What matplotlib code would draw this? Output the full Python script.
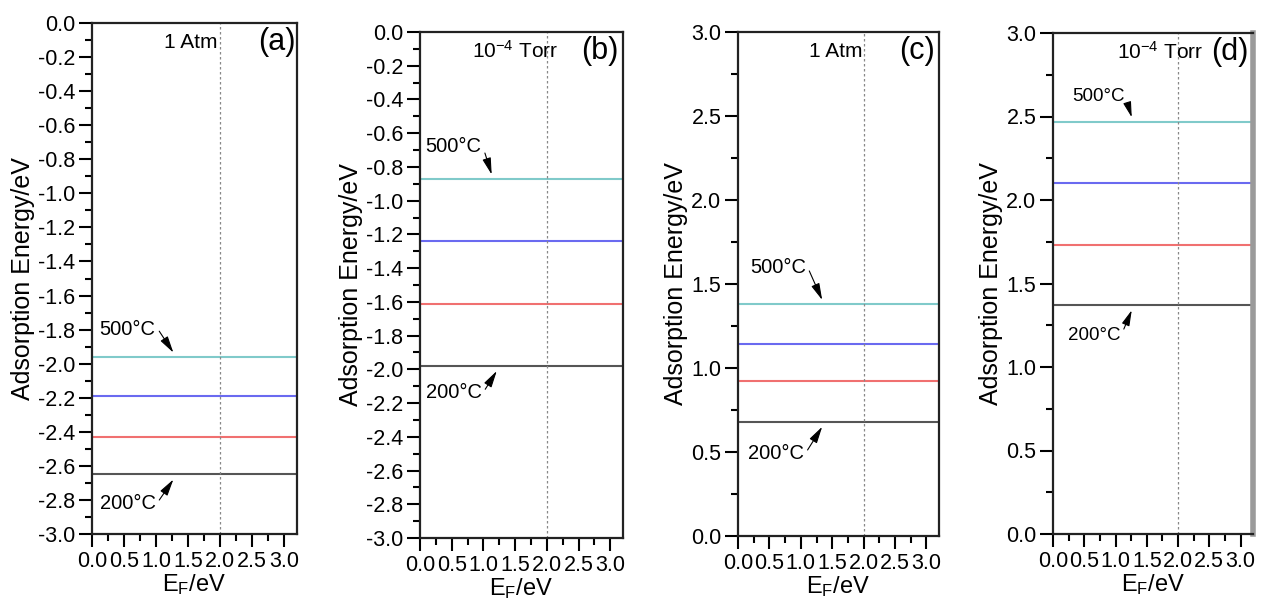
import numpy as np
import matplotlib.pyplot as plt
from matplotlib.ticker import MultipleLocator

plt.rcParams['font.family'] = ['Liberation Sans', 'DejaVu Sans']
plt.rcParams['mathtext.fontset'] = 'custom'
plt.rcParams['mathtext.rm'] = 'Liberation Sans'
plt.rcParams['mathtext.it'] = 'Liberation Sans'
plt.rcParams['axes.unicode_minus'] = False

# data: adsorption energy levels, 500°C ... 200°C (top to bottom)
panel_tags = ['(a)', '(b)', '(c)', '(d)']
conditions = ['1 Atm', '10$^{-4}$ Torr', '1 Atm', '10$^{-4}$ Torr']
levels_a = [-1.96, -2.19, -2.43, -2.65]
levels_b = [-0.87, -1.24, -1.61, -1.98]
levels_c = [1.38, 1.14, 0.92, 0.68]
levels_d = [2.47, 2.10, 1.73, 1.37]
levels = [levels_a, levels_b, levels_c, levels_d]
temp_labels = ['500°C', '200°C']
ef_mark = 2.0
x_range = (0.0, 3.2)
y_ranges = [(-3.0, 0.0), (-3.0, 0.0), (0.0, 3.0), (0.0, 3.0)]
y_major = [0.2, 0.2, 0.5, 0.5]

line_colors = ['#80caca', '#6a6af0', '#f07070', '#555555']

# layout (pixels in a 1272x602 figure): left, right, top, bottom
W, H = 1272, 602
boxes = [(92, 297, 23, 534), (420, 623, 32, 538), (738, 939, 32, 536), (1053, 1253, 33, 534)]
# label text positions (data) and arrow tip x
hot_text = [(0.12, -1.80), (0.09, -0.68), (0.19, 1.60), (0.30, 2.62)]
cold_text = [(0.12, -2.82), (0.09, -2.14), (0.16, 0.49), (0.24, 1.19)]
tip_x = [(1.27, 1.27), (1.13, 1.21), (1.34, 1.34), (1.26, 1.26)]
temp_size = [14.5, 14.5, 14.5, 13.5]
cond_pos = [(0.61, 'right'), (0.256, 'left'), (0.617, 'right'), (0.32, 'left')]
tag_x = [0.90, 0.887, 0.89, 0.885]

fig = plt.figure(figsize=(W / 100, H / 100), dpi=100)

for i in range(4):
    l, r, t, b = boxes[i]
    ax = fig.add_axes([l / W, 1 - b / H, (r - l) / W, (b - t) / H])

    for v, c in zip(levels[i], line_colors):
        ax.axhline(v, color=c, lw=1.5)
    ax.axvline(ef_mark, color='#888888', lw=0.9, ls=(0, (2, 2)))

    ax.set_xlim(*x_range)
    ax.set_ylim(*y_ranges[i])
    ax.xaxis.set_major_locator(MultipleLocator(0.5))
    ax.xaxis.set_minor_locator(MultipleLocator(0.25))
    ax.yaxis.set_major_locator(MultipleLocator(y_major[i]))
    ax.yaxis.set_minor_locator(MultipleLocator(y_major[i] / 2))
    ax.xaxis.set_major_formatter('{x:.1f}')
    ax.yaxis.set_major_formatter('{x:.1f}')
    ax.tick_params(which='both', direction='out', width=1.5, labelsize=15.5, top=False, right=False)
    ax.tick_params(which='major', length=9.5, pad=2.5)
    ax.tick_params(which='minor', length=5)
    for s in ax.spines.values():
        s.set_linewidth(1.6)
        s.set_color('#222222')
    if i == 3:
        ax.spines['right'].set_linewidth(4)
        ax.spines['right'].set_color('#9a9a9a')

    ax.set_ylabel('Adsorption Energy/eV', fontsize=18, labelpad=2)
    ax.set_xlabel('E$_\\mathregular{F}$/eV', fontsize=17, labelpad=0)

    cx, ha = cond_pos[i]
    ax.text(cx, 0.962, conditions[i], transform=ax.transAxes, ha=ha, va='center', fontsize=15)
    ax.text(tag_x[i], 0.962, panel_tags[i], transform=ax.transAxes, ha='center', va='center', fontsize=22)

    arrow = dict(arrowstyle='-|>,head_length=0.7,head_width=0.18', color='black', lw=0.8,
                 shrinkA=1, shrinkB=0)
    ax.annotate(temp_labels[0], xy=(tip_x[i][0], levels[i][0] + 0.025), xytext=hot_text[i],
                ha='left', va='center', fontsize=temp_size[i],
                arrowprops=dict(arrow, relpos=(1.0, 0.7)))
    ax.annotate(temp_labels[1], xy=(tip_x[i][1], levels[i][-1] - 0.03), xytext=cold_text[i],
                ha='left', va='center', fontsize=temp_size[i],
                arrowprops=dict(arrow, relpos=(1.0, 0.4)))

fig.savefig('out.png', dpi=100)
